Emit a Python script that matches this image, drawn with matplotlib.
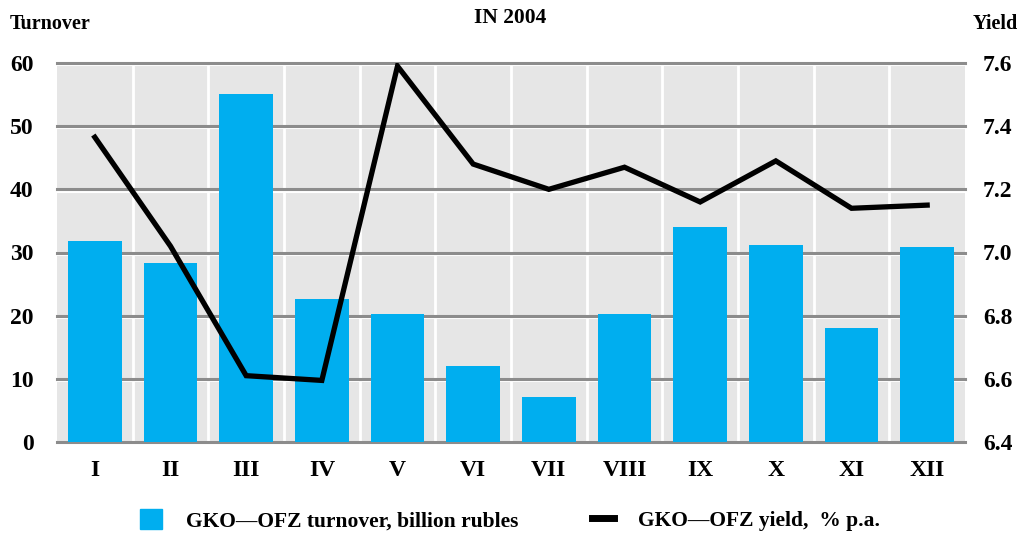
import matplotlib.pyplot as plt
from matplotlib.patches import Patch
from matplotlib.lines import Line2D

plt.rcParams['font.family'] = ['Liberation Serif', 'DejaVu Serif']
plt.rcParams['font.weight'] = 'bold'

months = ['I', 'II', 'III', 'IV', 'V', 'VI', 'VII', 'VIII', 'IX', 'X', 'XI', 'XII']
turnover = [31.8, 28.4, 55.1, 22.7, 20.3, 12.0, 7.2, 20.3, 34.1, 31.2, 18.0, 30.8]
yield_pa = [7.365, 7.02, 6.61, 6.595, 7.59, 7.28, 7.20, 7.27, 7.16, 7.29, 7.14, 7.15]

blue = '#00aeef'
grid_grey = '#8c8c8c'

fig = plt.figure(figsize=(10.24, 5.38), dpi=100)
ax = fig.add_axes([57 / 1024, 1 - 442 / 538, 908 / 1024, 379 / 538])
ax.set_facecolor('#e6e6e6')
x = range(len(months))

# grid: white separators between months, grey lines with white shadow under them
for i in range(len(months) - 1):
    ax.axvline(i + 0.5, color='white', lw=2, zorder=1)
for v in range(0, 61, 10):
    ax.axhline(v - 0.35, color='white', lw=1.5, zorder=1)
    ax.axhline(v, color=grid_grey, lw=2.2, zorder=1, clip_on=False)

ax.bar(x, turnover, width=0.71, color=blue, zorder=2)
ax.set_xlim(-0.5, len(months) - 0.5)
ax.set_ylim(0, 60)
ax.set_yticks(range(0, 61, 10))
ax.set_xticks(list(x))
ax.set_xticklabels(months)
ax.tick_params(axis='y', length=0, pad=17, labelsize=17)
ax.tick_params(axis='x', length=0, pad=13, labelsize=17)
for s in ax.spines.values():
    s.set_visible(False)

ax2 = ax.twinx()
ax2.plot(x, yield_pa, color='black', lw=3.8, zorder=3, solid_joinstyle='miter')
ax2.set_ylim(6.4, 7.6)
ax2.set_yticks([6.4, 6.6, 6.8, 7.0, 7.2, 7.4, 7.6])
ax2.set_yticklabels(['6.4', '6.6', '6.8', '7.0', '7.2', '7.4', '7.6'])
ax2.tick_params(axis='y', length=0, pad=13, labelsize=17)
for s in ax2.spines.values():
    s.set_visible(False)

fig.text(10 / 1024, 1 - 24 / 538, 'Turnover', fontsize=14.5, va='center', ha='left')
fig.text(1018 / 1024, 1 - 24 / 538, 'Yield', fontsize=14.5, va='center', ha='right')
fig.text(510 / 1024, 1 - 18 / 538, 'IN 2004', fontsize=15.5, va='center', ha='center')

handles = [Patch(color=blue), Line2D([0], [0], color='black', lw=5)]
labels = ['GKO\u2014OFZ turnover, billion rubles', 'GKO\u2014OFZ yield,  % p.a.']
fig.legend(handles, labels, loc='center', bbox_to_anchor=(0.498, 1 - 520 / 538),
           ncol=2, frameon=False, fontsize=15.5, handlelength=1.05, handleheight=1.05,
           columnspacing=3.4, handletextpad=1.1)

fig.savefig('out.png', dpi=100)
